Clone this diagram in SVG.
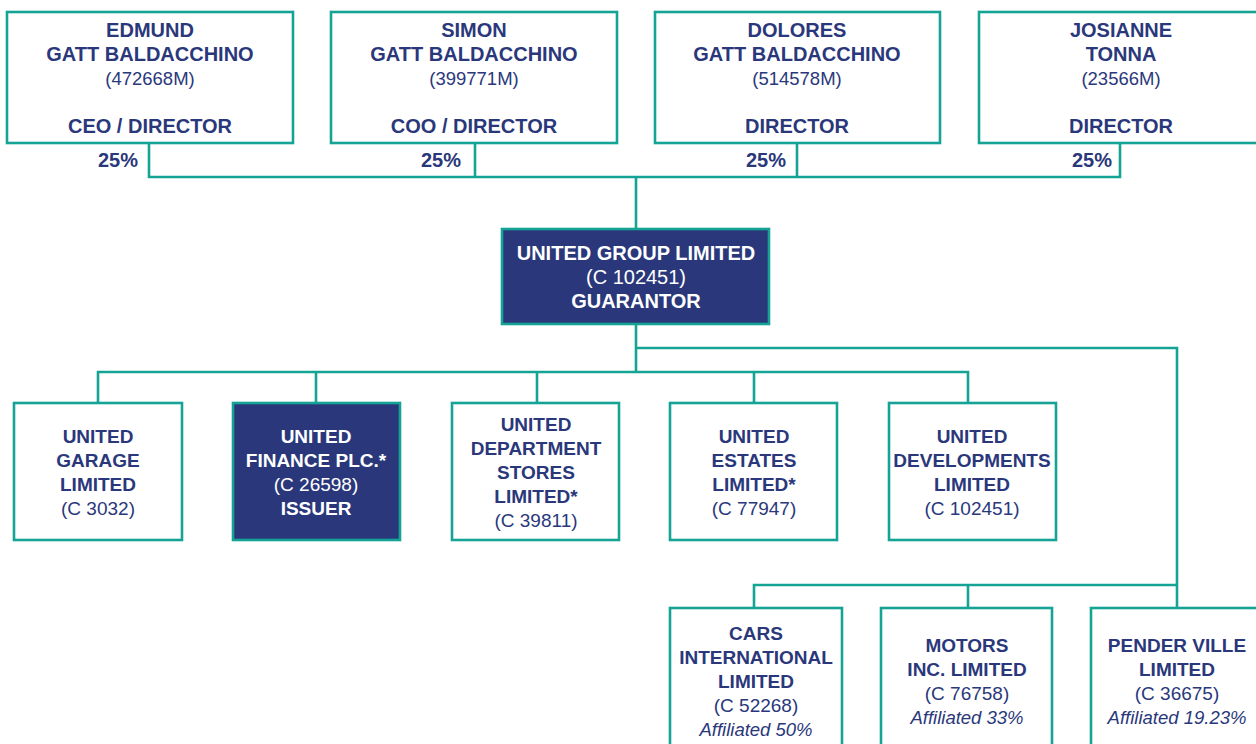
<svg xmlns="http://www.w3.org/2000/svg" width="1256" height="744" viewBox="0 0 1256 744">
<style>
.box{fill:#fff;stroke:#14a394;stroke-width:2.6}
.dark{fill:#2a387b;stroke:#14a394;stroke-width:2.6}
.ln{fill:none;stroke:#14a394;stroke-width:2.6}
text{font-family:"Liberation Sans",Arial,sans-serif;font-size:19px;text-anchor:middle;fill:#2a387b}
.b{font-weight:bold}
.t{font-size:20px}
.r{font-size:18.5px}
.w{fill:#fff}
.i{font-style:italic;font-size:18.5px}
</style>
<rect width="1256" height="744" fill="#fff"/>
<g id="connectors">
<path class="ln" d="M149 143V177H1120V143M475 143V177M797 143V177M636 177V229"/>
<path class="ln" d="M636 324V372M98 403V372H968V403M316 372V403M537 372V403M754 372V403M636 348H1177V608M754 608V585H1177M968 585V608"/>
</g>
<g id="edmund">
<rect class="box" x="7" y="12" width="286" height="131"/>
<text x="150" y="37" class="b t">EDMUND</text>
<text x="150" y="61" class="b t">GATT BALDACCHINO</text>
<text x="150" y="85" class="r">(472668M)</text>
<text x="150" y="133" class="b t">CEO / DIRECTOR</text>
<text x="118" y="167" class="b t">25%</text>
</g>
<g id="simon">
<rect class="box" x="331" y="12" width="286" height="131"/>
<text x="474" y="37" class="b t">SIMON</text>
<text x="474" y="61" class="b t">GATT BALDACCHINO</text>
<text x="474" y="85" class="r">(399771M)</text>
<text x="474" y="133" class="b t">COO / DIRECTOR</text>
<text x="441" y="167" class="b t">25%</text>
</g>
<g id="dolores">
<rect class="box" x="655" y="12" width="285" height="131"/>
<text x="797" y="37" class="b t">DOLORES</text>
<text x="797" y="61" class="b t">GATT BALDACCHINO</text>
<text x="797" y="85" class="r">(514578M)</text>
<text x="797" y="133" class="b t">DIRECTOR</text>
<text x="766" y="167" class="b t">25%</text>
</g>
<g id="josianne">
<rect class="box" x="979" y="12" width="290" height="131"/>
<text x="1121" y="37" class="b t">JOSIANNE</text>
<text x="1121" y="61" class="b t">TONNA</text>
<text x="1121" y="85" class="r">(23566M)</text>
<text x="1121" y="133" class="b t">DIRECTOR</text>
<text x="1092" y="167" class="b t">25%</text>
</g>
<g id="guarantor">
<rect class="dark" x="502" y="229" width="267" height="95"/>
<text x="636" y="260" class="b w t">UNITED GROUP LIMITED</text>
<text x="636" y="284" class="w t">(C 102451)</text>
<text x="636" y="308" class="b w t">GUARANTOR</text>
</g>
<g id="garage">
<rect class="box" x="14" y="403" width="168" height="137"/>
<text x="98" y="443" class="b">UNITED</text>
<text x="98" y="467" class="b">GARAGE</text>
<text x="98" y="491" class="b">LIMITED</text>
<text x="98" y="515">(C 3032)</text>
</g>
<g id="finance">
<rect class="dark" x="233" y="403" width="167" height="137"/>
<text x="316" y="443" class="b w">UNITED</text>
<text x="316" y="467" class="b w">FINANCE PLC.*</text>
<text x="316" y="491" class="w">(C 26598)</text>
<text x="316" y="515" class="b w">ISSUER</text>
</g>
<g id="stores">
<rect class="box" x="452" y="403" width="167" height="137"/>
<text x="536" y="431" class="b">UNITED</text>
<text x="536" y="455" class="b">DEPARTMENT</text>
<text x="536" y="479" class="b">STORES</text>
<text x="536" y="503" class="b">LIMITED*</text>
<text x="536" y="527">(C 39811)</text>
</g>
<g id="estates">
<rect class="box" x="670" y="403" width="167" height="137"/>
<text x="754" y="443" class="b">UNITED</text>
<text x="754" y="467" class="b">ESTATES</text>
<text x="754" y="491" class="b">LIMITED*</text>
<text x="754" y="515">(C 77947)</text>
</g>
<g id="developments">
<rect class="box" x="889" y="403" width="167" height="137"/>
<text x="972" y="443" class="b">UNITED</text>
<text x="972" y="467" class="b">DEVELOPMENTS</text>
<text x="972" y="491" class="b">LIMITED</text>
<text x="972" y="515">(C 102451)</text>
</g>
<g id="cars">
<rect class="box" x="670" y="608" width="172" height="150"/>
<text x="756" y="640" class="b">CARS</text>
<text x="756" y="664" class="b">INTERNATIONAL</text>
<text x="756" y="688" class="b">LIMITED</text>
<text x="756" y="712">(C 52268)</text>
<text x="756" y="736" class="i">Affiliated 50%</text>
</g>
<g id="motors">
<rect class="box" x="881" y="608" width="171" height="150"/>
<text x="967" y="652" class="b">MOTORS</text>
<text x="967" y="676" class="b">INC. LIMITED</text>
<text x="967" y="700">(C 76758)</text>
<text x="967" y="724" class="i">Affiliated 33%</text>
</g>
<g id="pender">
<rect class="box" x="1091" y="608" width="180" height="150"/>
<text x="1177" y="652" class="b">PENDER VILLE</text>
<text x="1177" y="676" class="b">LIMITED</text>
<text x="1177" y="700">(C 36675)</text>
<text x="1177" y="724" class="i">Affiliated 19.23%</text>
</g>
</svg>
